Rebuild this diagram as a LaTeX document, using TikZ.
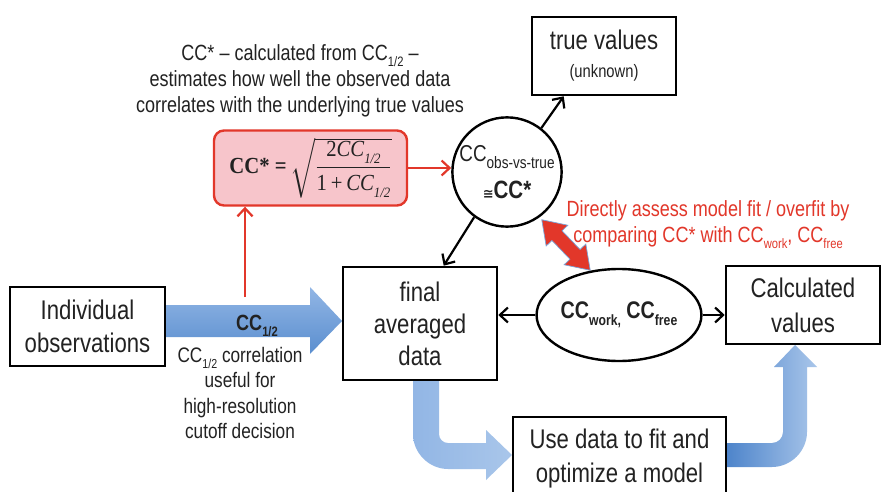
\documentclass[tikz,border=0pt]{standalone}
\usepackage{amsmath}
\usepackage{fontspec}
\setmainfont{Liberation Sans}[FakeStretch=0.82]
\newfontfamily\serif{Liberation Serif}[FakeStretch=0.9]
\newfontfamily\dejavu{DejaVu Sans}
\usetikzlibrary{arrows.meta,shapes.geometric,calc}
\definecolor{txt}{HTML}{222222}
\definecolor{redc}{HTML}{E2372A}
\definecolor{pinkf}{HTML}{F7C5CB}
\definecolor{blueA}{HTML}{5A8ECF}
\definecolor{blueB}{HTML}{92B6E5}
\definecolor{blueC}{HTML}{A9C6EA}
\definecolor{blueD}{HTML}{4C83CA}
\newcommand{\Sub}[1]{\raisebox{-0.28em}{\scalebox{0.62}{#1}}}
\newcommand{\SubL}[1]{\raisebox{-0.3em}{\scalebox{0.72}{#1}}}
\tikzset{
  box/.style={draw=black, line width=2.6pt, fill=white, align=center, inner sep=2pt, text=txt},
  blk/.style={draw=black, line width=2.2pt, -{Straight Barb[length=8pt,width=15pt]}},
  redarr/.style={draw=redc, line width=2.2pt, -{Straight Barb[length=8pt,width=15pt]}},
  big/.style={font=\fontsize{27}{33}\selectfont},
  mid/.style={font=\fontsize{22}{26}\selectfont},
}
\begin{document}
\begin{tikzpicture}[x=1pt,y=-1pt]
\useasboundingbox (0,0) rectangle (881,492);
\clip (0,0) rectangle (881,492);
\fill[white] (0,0) rectangle (881,492);

% blue arrows
\shade[top color=blueB, bottom color=blueA]
  (165,305) -- (310,305) -- (310,287) -- (342,321) -- (310,354) -- (310,337) -- (165,337) -- cycle;
\shade[left color=blueB, right color=blueC]
  (413,378) -- (413,434) .. controls (413,453) and (429,469) .. (448,469)
  -- (486,469) -- (486,480) -- (512,455) -- (486,430) -- (486,443) -- (448,443)
  .. controls (443,443) and (439,439) .. (439,434) -- (439,378) -- cycle;
\shade[left color=blueD, right color=blueC]
  (725,443) -- (772,443) .. controls (778,443) and (783,438) .. (783,432)
  -- (783,367) -- (774,367) -- (795,345) -- (817,367) -- (807,367) -- (807,432)
  .. controls (807,451) and (791,467) .. (772,467) -- (725,467) -- cycle;

% red double arrow
\begin{scope}[shift={(566,245)}, rotate=-46.2]
\filldraw[fill=redc, draw=blueA!80, line width=0.7pt]
  (-35,0) -- (-13,15) -- (-13,7) -- (13,7) -- (13,15) -- (35,0)
  -- (13,-15) -- (13,-7) -- (-13,-7) -- (-13,-15) -- cycle;
\end{scope}

% top annotation
\node[mid, align=center, text=txt, inner sep=0pt] (ann) at (300,81)
  {CC* -- calculated from CC\Sub{1/2} --\\estimates how well the observed data\\correlates with the underlying true values};

% nodes
\node[box, big, minimum width=144pt, minimum height=78pt] (tv) at (604,56)
  {true values\\[-5pt]{\fontsize{18}{21}\selectfont (unknown)}};
\node[draw=redc, fill=pinkf, line width=2.4pt, rounded corners=10pt,
      minimum width=193pt, minimum height=75pt, inner sep=0pt, text=txt] (fbox) at (310.5,168)
  {\fontsize{23}{27}\selectfont\serif\bfseries CC* =\,\normalfont
   $\sqrt{\dfrac{\hbox{\serif 2\itshape CC\Sub{1/2}}}{\hbox{\serif 1\,+\,\itshape CC\Sub{1/2}}}}$};
\node[circle, draw=black, line width=2.4pt, fill=white, minimum size=104pt, inner sep=0pt,
      align=center, text=txt, font=\fontsize{23}{24}\selectfont] (circ) at (507,172)
  {CC\SubL{obs-vs-true}\\[12pt]\textbf{{\dejavu\fontsize{13}{13}\selectfont ≅}\fontsize{25}{25}\selectfont CC*}};
\node[box, big, minimum width=155pt, minimum height=79pt] (obs) at (87.5,326.5)
  {Individual\\observations};
\node[font=\fontsize{22}{26}\selectfont\bfseries, text=txt] (cclab) at (257,326) {CC\Sub{1/2}};
\node[align=center, text=txt, font=\fontsize{21}{25.3}\selectfont] (cctext) at (240,393)
  {CC\Sub{1/2} correlation\\useful for\\high-resolution\\cutoff decision};
\node[box, big, minimum width=154pt, minimum height=113pt, font=\fontsize{27}{32}\selectfont] (fin) at (420,323.5)
  {final\\averaged\\data};
\node[ellipse, draw=black, line width=2.4pt, fill=white, minimum width=148pt, minimum height=92pt,
      inner sep=0pt, text=txt, font=\fontsize{24}{26}\selectfont\bfseries] (ell) at (619,315)
  {CC\Sub{work,} CC\Sub{free}};
\node[box, big, minimum width=154pt, minimum height=78pt, font=\fontsize{27}{35}\selectfont] (calc) at (803,305)
  {Calculated\\values};
\node[align=center, text=redc, font=\fontsize{22}{26}\selectfont] (redt) at (708,225)
  {Directly assess model fit / overfit by\\comparing CC* with CC\Sub{work}, CC\Sub{free}};
\node[box, big, minimum width=213pt, minimum height=84pt, font=\fontsize{27}{34}\selectfont] (use) at (619.5,459)
  {Use data to fit and\\optimize a model};

% connectors
\draw[blk] (circ.52) -- ([xshift=33pt]tv.south west);
\draw[blk] (circ.234) -- ([xshift=102pt]fin.north west);
\draw[blk] (ell.west) -- (ell.west -| fin.east);
\draw[blk] (ell.east) -- (ell.east -| calc.west);
\draw[redarr] (fbox.east) -- (circ.west |- fbox.east);
\coordinate (rs) at (245,297);
\draw[redarr] (rs) -- (rs |- fbox.south);
\end{tikzpicture}
\end{document}
